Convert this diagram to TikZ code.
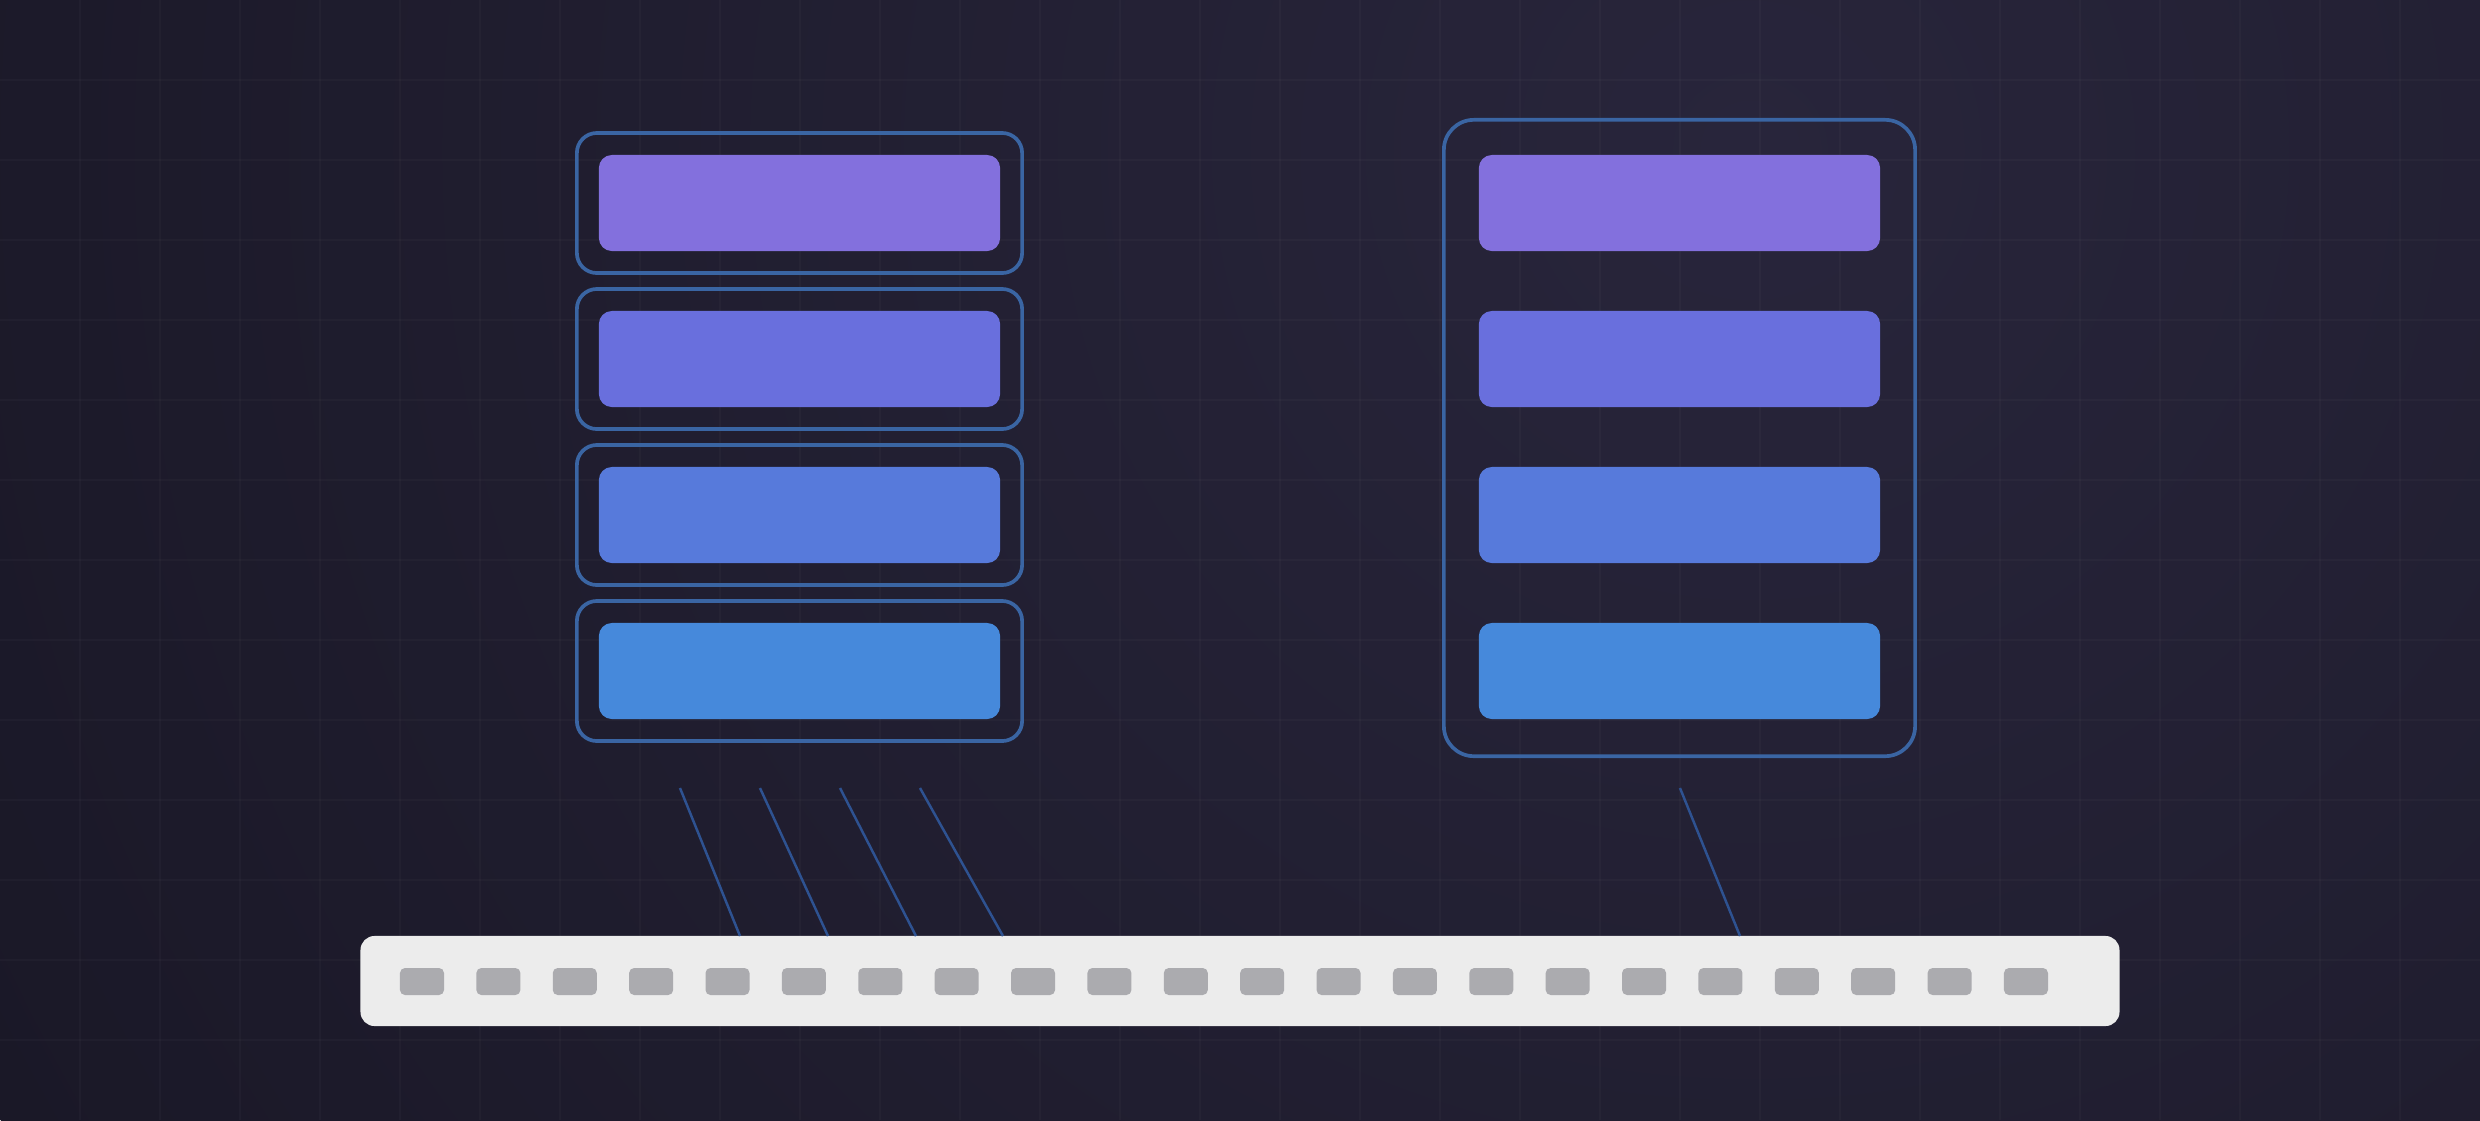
\documentclass[tikz,border=0pt]{standalone}
\usetikzlibrary{calc}
\definecolor{bgA}{HTML}{1A1827}
\definecolor{bgB}{HTML}{28253B}
\definecolor{framec}{HTML}{3A65A3}
\definecolor{wirec}{HTML}{2E5291}
\definecolor{cA}{HTML}{8370DD}
\definecolor{cB}{HTML}{696FDD}
\definecolor{cC}{HTML}{577ADB}
\definecolor{cD}{HTML}{4689DB}
\definecolor{barc}{HTML}{ECECEC}
\definecolor{portc}{HTML}{ABABAF}
\tikzset{
  framebox/.style={draw=framec, line width=1.05pt, rounded corners=0.2cm, minimum width=4.45cm, minimum height=1.4cm, inner sep=0pt},
  bigframe/.style={draw=framec, line width=1.05pt, rounded corners=0.3cm, minimum width=4.71cm, minimum height=6.36cm, inner sep=0pt},
  slab/.style={rounded corners=0.13cm, minimum width=4.01cm, minimum height=0.96cm, inner sep=0pt},
  busbar/.style={fill=barc, rounded corners=0.14cm, minimum width=17.58cm, minimum height=0.9cm, inner sep=0pt},
  portbox/.style={fill=portc, rounded corners=0.05cm, minimum width=0.44cm, minimum height=0.27cm, inner sep=0pt},
  wire/.style={draw=wirec, line width=0.7pt},
  gridline/.style={draw=white, draw opacity=0.025, line width=0.45pt}
}
\begin{document}
\begin{tikzpicture}[x=0.01cm,y=-0.01cm]
\useasboundingbox (0,0) rectangle (2480,1120);
\clip (0,0) rectangle (2480,1120);
\fill[bgA] (0,0) rectangle (2480,1120);
\shade[inner color=bgB, outer color=bgA] (1750,150) circle (2000);
\foreach \x in {80,160,...,2400} \draw[gridline] (\x,0) -- (\x,1120);
\foreach \y in {80,160,...,1040} \draw[gridline] (0,\y) -- (2480,\y);

% left stack
\node[framebox] (o1) at (799.5,203) {};
\node[framebox] (o2) at (799.5,359) {};
\node[framebox] (o3) at (799.5,515) {};
\node[framebox] (o4) at (799.5,671) {};
\node[slab, fill=cA] (l1) at (799.5,203) {};
\node[slab, fill=cB] (l2) at (799.5,359) {};
\node[slab, fill=cC] (l3) at (799.5,515) {};
\node[slab, fill=cD] (l4) at (799.5,671) {};

% right stack
\node[bigframe] (big) at (1679.5,438) {};
\node[slab, fill=cA] (r1) at (1679.5,203) {};
\node[slab, fill=cB] (r2) at (1679.5,359) {};
\node[slab, fill=cC] (r3) at (1679.5,515) {};
\node[slab, fill=cD] (r4) at (1679.5,671) {};

% bus bar
\node[busbar] (bus) at (1240,981) {};
\foreach \i in {0,...,21}
  \node[portbox] (p\i) at ({422+76.38*\i},981.5) {};

% wires
\coordinate (t1) at (680,788);  \coordinate (b1) at (740,936);
\coordinate (t2) at (760,788);  \coordinate (b2) at (828,936);
\coordinate (t3) at (840,788);  \coordinate (b3) at (916,936);
\coordinate (t4) at (920,788);  \coordinate (b4) at (1003,936);
\coordinate (t5) at (1680,788); \coordinate (b5) at (1740,936);
\draw[wire] (t1) -- (b1);
\draw[wire] (t2) -- (b2);
\draw[wire] (t3) -- (b3);
\draw[wire] (t4) -- (b4);
\draw[wire] (t5) -- (b5);
\end{tikzpicture}
\end{document}
